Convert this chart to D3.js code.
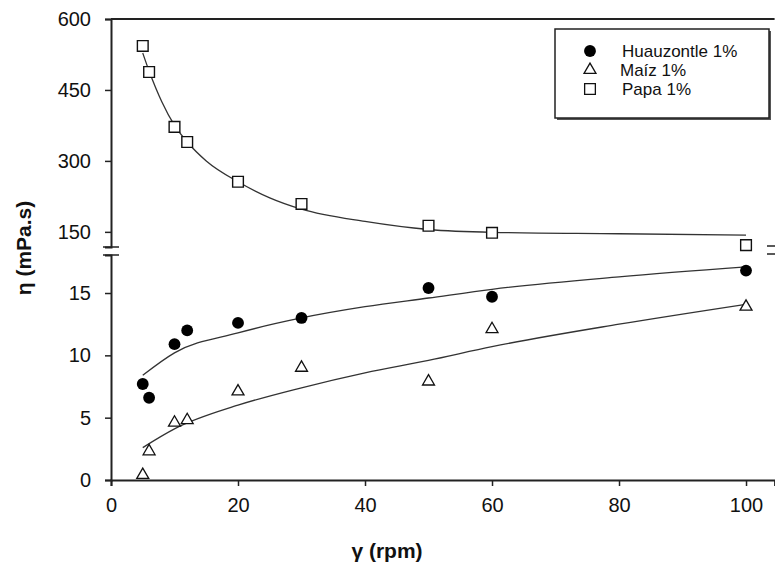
<!DOCTYPE html>
<html>
<head>
<meta charset="utf-8">
<script src="https://cdn.jsdelivr.net/npm/d3@7"></script>
<style>
  body { margin: 0; background: #fff; }
  svg { display: block; font-family: "Liberation Sans", Arial, sans-serif; }
</style>
</head>
<body>
<svg id="chart" width="775" height="576"></svg>
<script>
// datos
var gamma = [5, 6, 10, 12, 20, 30, 50, 60, 100];
var huauzontle = [7.7, 6.6, 10.9, 12.0, 12.6, 13.0, 15.4, 14.7, 16.8];
var maiz = [0.4, 2.3, 4.6, 4.8, 7.1, 9.0, 7.9, 12.1, 13.9];
var papa = [543, 488, 372, 340, 256, 209, 163, 148, 122];

// curvas de ajuste
var fitGamma = [5, 10, 20, 30, 40, 50, 60, 80, 100];
var fitHuauzontle = [8.4, 10.2, 11.8, 13.0, 13.9, 14.6, 15.3, 16.3, 17.1];
var fitMaiz = [2.6, 4.1, 6.0, 7.4, 8.6, 9.6, 10.7, 12.5, 14.1];
var fitPapaGamma = [5, 6, 8, 10, 12, 15, 20, 25, 30, 40, 50, 60, 80, 100];
var fitPapa = [528, 490, 425, 375, 340, 300, 256, 222, 198, 172, 155, 149, 146, 143];

var xTicks = [0, 20, 40, 60, 80, 100];
var yLowTicks = [0, 5, 10, 15];
var yHighTicks = [150, 300, 450, 600];
var legendNames = ["Huauzontle 1%", "Maíz 1%", "Papa 1%"];

var svg = d3.select("#chart");
var ink = "#222";

var x = d3.scaleLinear().domain([0, 104.5]).range([111, 774.6]);
var yLow = d3.scaleLinear().domain([0, 18.05]).range([480, 255]);   // parte baja
var yHigh = d3.scaleLinear().domain([118, 600]).range([247, 19]);   // parte alta

/********** ejes **********/
var gx = svg.append("g").attr("transform", "translate(0,480)")
  .call(d3.axisBottom(x).tickValues(xTicks).tickSizeOuter(0).tickSize(6).tickPadding(12));
var gyl = svg.append("g").attr("transform", "translate(111,0)")
  .call(d3.axisLeft(yLow).tickValues(yLowTicks).tickSizeOuter(0).tickSize(6).tickPadding(14));
var gyh = svg.append("g").attr("transform", "translate(111,0)")
  .call(d3.axisLeft(yHigh).tickValues(yHighTicks).tickSizeOuter(0).tickSize(6).tickPadding(14));

[gx, gyl, gyh].forEach(function(g) {
  g.select(".domain").attr("stroke", ink).attr("stroke-width", 2);
  g.selectAll(".tick line").attr("stroke", ink).attr("stroke-width", 1.5);
  g.selectAll(".tick text").attr("fill", "#111").style("font-size", "20px")
    .style("font-family", "Liberation Sans, Arial, sans-serif");
});

// linea superior
svg.append("line")
  .attr("x1", x(0)).attr("x2", x.range()[1])
  .attr("y1", yHigh(600)).attr("y2", yHigh(600))
  .attr("stroke", ink).attr("stroke-width", 2);

// marcas de corte
var breakY = [yHigh.range()[0], yLow.range()[1]];
breakY.forEach(function(yy) {
  svg.append("line").attr("x1", 103).attr("x2", 119).attr("y1", yy).attr("y2", yy)
    .attr("stroke", ink).attr("stroke-width", 1.5);
  svg.append("line").attr("x1", 767).attr("x2", 775).attr("y1", yy - 1).attr("y2", yy - 1)
    .attr("stroke", ink).attr("stroke-width", 1.5);
});

/********** curvas de ajuste **********/
var lineLow = d3.line().x(function(d) { return x(d[0]); }).y(function(d) { return yLow(d[1]); })
  .curve(d3.curveMonotoneX);
var lineHigh = d3.line().x(function(d) { return x(d[0]); }).y(function(d) { return yHigh(d[1]); })
  .curve(d3.curveMonotoneX);

svg.append("path").attr("d", lineLow(d3.zip(fitGamma, fitHuauzontle)))
  .attr("fill", "none").attr("stroke", "#333").attr("stroke-width", 1.3);
svg.append("path").attr("d", lineLow(d3.zip(fitGamma, fitMaiz)))
  .attr("fill", "none").attr("stroke", "#333").attr("stroke-width", 1.3);
svg.append("path").attr("d", lineHigh(d3.zip(fitPapaGamma, fitPapa)))
  .attr("fill", "none").attr("stroke", "#333").attr("stroke-width", 1.3);

/********** puntos **********/
var circleSym = d3.symbol().type(d3.symbolCircle).size(110);
var triSym = d3.symbol().type(d3.symbolTriangle).size(62);
var sqSym = d3.symbol().type(d3.symbolSquare).size(115);

svg.append("g").selectAll("path").data(d3.zip(gamma, huauzontle)).enter().append("path")
  .attr("d", circleSym)
  .attr("transform", function(d) { return "translate(" + x(d[0]) + "," + yLow(d[1]) + ")"; })
  .attr("fill", "#000");

svg.append("g").selectAll("path").data(d3.zip(gamma, maiz)).enter().append("path")
  .attr("d", triSym)
  .attr("transform", function(d) { return "translate(" + x(d[0]) + "," + yLow(d[1]) + ")"; })
  .attr("fill", "#fff").attr("stroke", "#111").attr("stroke-width", 1.3);

svg.append("g").selectAll("path").data(d3.zip(gamma, papa)).enter().append("path")
  .attr("d", sqSym)
  .attr("transform", function(d) { return "translate(" + x(d[0]) + "," + yHigh(d[1]) + ")"; })
  .attr("fill", "#fff").attr("stroke", "#111").attr("stroke-width", 1.4);

/********** leyenda **********/
svg.append("rect").attr("x", 557).attr("y", 31).attr("width", 214).attr("height", 89)
  .attr("fill", "#555");
svg.append("rect").attr("x", 555).attr("y", 29).attr("width", 214).attr("height", 89)
  .attr("fill", "#fff").attr("stroke", "#222").attr("stroke-width", 1.5);

var syms = [circleSym, triSym, sqSym];
var legend = svg.selectAll(".legend").data(legendNames).enter().append("g")
  .attr("class", "legend")
  .attr("transform", function(d, i) { return "translate(590," + (51 + i * 19) + ")"; });
legend.append("path")
  .attr("d", function(d, i) { return syms[i](); })
  .attr("fill", function(d, i) { return i == 0 ? "#000" : "#fff"; })
  .attr("stroke", "#111").attr("stroke-width", function(d, i) { return i == 0 ? 0 : 1.3; });
legend.append("text")
  .attr("x", function(d, i) { return i == 1 ? 30 : 32; })
  .attr("dy", "0.36em")
  .style("font-size", "17px").attr("fill", "#111")
  .text(function(d) { return d; });

/********** titulos **********/
svg.append("text")
  .attr("transform", "translate(31,248) rotate(-90)")
  .attr("text-anchor", "middle")
  .style("font-size", "21px").style("font-weight", "bold").attr("fill", "#111")
  .text("η (mPa.s)");
svg.append("text")
  .attr("x", 387).attr("y", 558)
  .attr("text-anchor", "middle")
  .style("font-size", "21px").style("font-weight", "bold").attr("fill", "#111")
  .text("γ (rpm)");
</script>
</body>
</html>
